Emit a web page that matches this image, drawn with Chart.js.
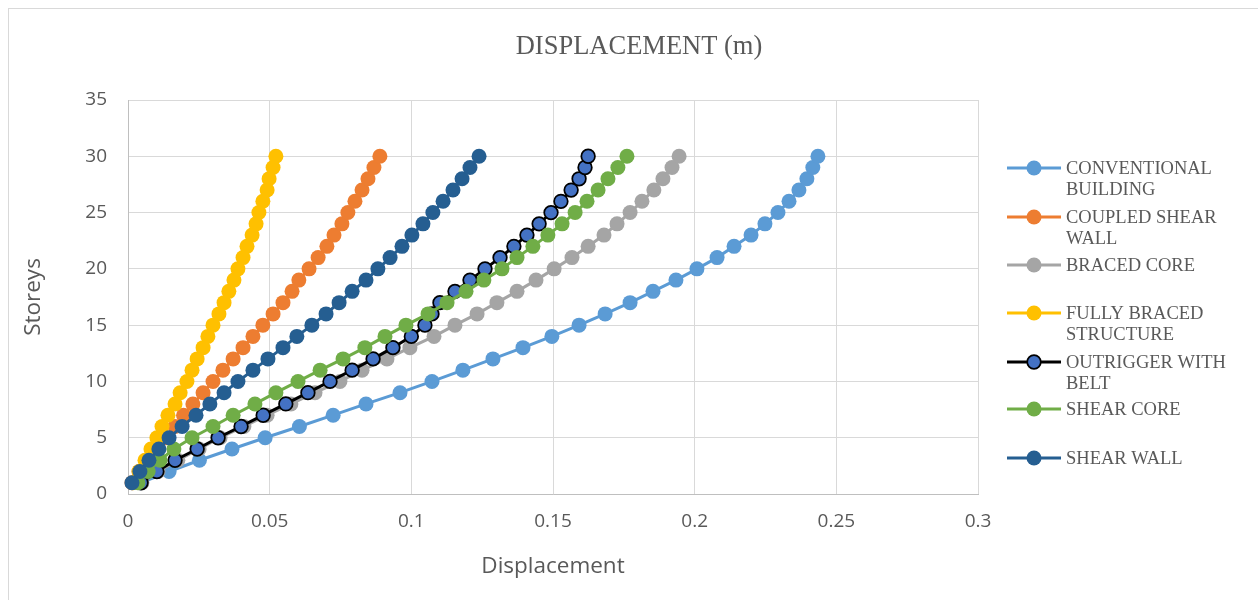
<!DOCTYPE html>
<html>
<head>
<meta charset="utf-8">
<script src="https://cdn.jsdelivr.net/npm/chart.js@4.4.1/dist/chart.umd.min.js"></script>
<style>
html,body{margin:0;padding:0;background:#fff;overflow:hidden;width:1258px;height:600px;}
#frame{position:absolute;left:8px;top:8px;width:1300px;height:700px;border:1px solid #d9d9d9;box-sizing:border-box;}
#wrap{position:absolute;left:0;top:0;width:1258px;height:600px;}
</style>
</head>
<body>
<div id="frame"></div>
<div id="wrap"><canvas id="c" width="1258" height="600"></canvas></div>
<script>
// ---- data ----
const storeys = [1,2,3,4,5,6,7,8,9,10,11,12,13,14,15,16,17,18,19,20,21,22,23,24,25,26,27,28,29,30];

const conventionalBuilding = [0.0045,0.0145,0.0252,0.0367,0.0484,0.0605,0.0724,0.0840,0.0960,0.1073,0.1182,0.1288,0.1394,0.1496,0.1592,0.1684,0.1772,0.1853,0.1934,0.2008,0.2079,0.2139,0.2199,0.2248,0.2294,0.2333,0.2368,0.2396,0.2417,0.2435];
const coupledShearWall = [0.0014,0.0039,0.0067,0.0102,0.0134,0.0166,0.0196,0.0229,0.0265,0.0300,0.0335,0.0371,0.0406,0.0441,0.0476,0.0512,0.0547,0.0579,0.0603,0.0639,0.0671,0.0702,0.0727,0.0755,0.0776,0.0801,0.0826,0.0847,0.0868,0.0889];
const bracedCore = [0.0049,0.0106,0.0176,0.0251,0.0325,0.0409,0.0491,0.0575,0.0660,0.0748,0.0826,0.0914,0.0995,0.1080,0.1154,0.1232,0.1302,0.1373,0.1440,0.1504,0.1567,0.1624,0.1680,0.1726,0.1772,0.1814,0.1856,0.1888,0.1920,0.1945];
const fullyBracedStructure = [0.0018,0.0039,0.0060,0.0081,0.0102,0.0120,0.0141,0.0166,0.0184,0.0208,0.0226,0.0244,0.0265,0.0282,0.0300,0.0321,0.0339,0.0356,0.0374,0.0388,0.0406,0.0420,0.0438,0.0452,0.0462,0.0476,0.0491,0.0498,0.0512,0.0522];
const outriggerWithBelt = [0.0046,0.0102,0.0166,0.0244,0.0318,0.0399,0.0477,0.0557,0.0635,0.0713,0.0791,0.0865,0.0935,0.1000,0.1048,0.1073,0.1101,0.1154,0.1207,0.1260,0.1313,0.1362,0.1408,0.1451,0.1493,0.1528,0.1564,0.1592,0.1613,0.1624];
const shearCore = [0.0035,0.0071,0.0113,0.0162,0.0226,0.0300,0.0371,0.0448,0.0522,0.0600,0.0678,0.0759,0.0836,0.0907,0.0981,0.1059,0.1126,0.1193,0.1256,0.1320,0.1373,0.1429,0.1482,0.1532,0.1578,0.1620,0.1659,0.1694,0.1729,0.1761];
const shearWall = [0.0014,0.0042,0.0074,0.0109,0.0145,0.0191,0.0240,0.0289,0.0339,0.0388,0.0441,0.0494,0.0547,0.0596,0.0649,0.0699,0.0745,0.0791,0.0840,0.0882,0.0925,0.0967,0.1002,0.1041,0.1076,0.1112,0.1147,0.1179,0.1207,0.1239];

const seriesNames = ['CONVENTIONAL BUILDING','COUPLED SHEAR WALL','BRACED CORE','FULLY BRACED STRUCTURE','OUTRIGGER WITH BELT','SHEAR CORE','SHEAR WALL'];
const seriesValues = [conventionalBuilding, coupledShearWall, bracedCore, fullyBracedStructure, outriggerWithBelt, shearCore, shearWall];

const xTickLabels = ['0','0.05','0.1','0.15','0.2','0.25','0.3'];
const yTickLabels = ['0','5','10','15','20','25','30','35'];

const chartTitle = 'DISPLACEMENT (m)';
const xAxisTitle = 'Displacement';
const yAxisTitle = 'Storeys';

// ---- styles ----
const lineColors   = ['#5B9BD5','#ED7D31','#A5A5A5','#FFC000','#000000','#70AD47','#255E91'];
const markerFills  = ['#5B9BD5','#ED7D31','#A5A5A5','#FFC000','#4472C4','#70AD47','#255E91'];
const markerBorders= ['#5B9BD5','#ED7D31','#A5A5A5','#FFC000','#000000','#70AD47','#255E91'];
const markerBorderW= [0,0,0,0,1.75,0,0];
const legendRowY = [168,217,265,313,362,409,458];

const textColor = '#595959';
const serif = '"Liberation Serif","Times New Roman",serif';
const sans = '"Open Sans","Liberation Sans",sans-serif';

const datasets = seriesValues.map((vals, i) => ({
  label: seriesNames[i],
  data: storeys.map((s, k) => ({x: vals[k], y: s})),
  showLine: true,
  borderColor: lineColors[i],
  backgroundColor: markerFills[i],
  pointBackgroundColor: markerFills[i],
  pointBorderColor: markerBorders[i],
  pointBorderWidth: markerBorderW[i],
  pointRadius: markerBorderW[i] ? 6.8 : 7.5,
  pointHoverRadius: 7.5,
  borderWidth: 3,
  tension: 0,
  clip: false,
  order: seriesValues.length - 1 - i
}));

const titleLegendPlugin = {
  id: 'titleLegend',
  afterDraw(chart) {
    const ctx = chart.ctx;
    ctx.save();
    // title
    ctx.fillStyle = textColor;
    ctx.font = '26.5px ' + serif;
    ctx.textAlign = 'center';
    ctx.textBaseline = 'middle';
    ctx.fillText(chartTitle, 639, 47);
    // legend
    ctx.font = '18.5px ' + serif;
    ctx.textAlign = 'left';
    const maxW = 185;
    seriesNames.forEach((name, i) => {
      const y = legendRowY[i];
      ctx.strokeStyle = lineColors[i];
      ctx.lineWidth = 3;
      ctx.beginPath();
      ctx.moveTo(1007, y);
      ctx.lineTo(1061, y);
      ctx.stroke();
      ctx.beginPath();
      ctx.arc(1034, y, markerBorderW[i] ? 6.8 : 7.5, 0, Math.PI * 2);
      ctx.fillStyle = markerFills[i];
      ctx.fill();
      if (markerBorderW[i]) {
        ctx.lineWidth = markerBorderW[i];
        ctx.strokeStyle = markerBorders[i];
        ctx.stroke();
      }
      // wrap text
      const words = name.split(' ');
      const lines = [];
      let cur = '';
      words.forEach(w => {
        const t = cur ? cur + ' ' + w : w;
        if (cur && ctx.measureText(t).width > maxW) { lines.push(cur); cur = w; }
        else cur = t;
      });
      if (cur) lines.push(cur);
      ctx.fillStyle = textColor;
      lines.forEach((ln, k) => ctx.fillText(ln, 1066, y + 1 + k * 21.5));
    });
    ctx.restore();
  }
};

new Chart(document.getElementById('c'), {
  type: 'scatter',
  data: { datasets },
  plugins: [titleLegendPlugin],
  options: {
    responsive: false,
    maintainAspectRatio: false,
    animation: false,
    layout: { padding: { left: 16, top: 100, right: 280, bottom: 18 } },
    plugins: { legend: { display: false }, title: { display: false }, tooltip: { enabled: false } },
    scales: {
      x: {
        type: 'linear',
        min: 0, max: 0.3,
        afterFit(scale) { scale.height = 88; },
        afterBuildTicks(scale) { scale.ticks = xTickLabels.map(t => ({value: parseFloat(t)})); },
        ticks: {
          color: textColor,
          font: { family: sans, size: 19 },
          padding: 16,
          maxRotation: 0,
          callback: (v, i) => xTickLabels[i]
        },
        grid: { color: '#d9d9d9', lineWidth: 1, drawTicks: false },
        border: { color: '#bfbfbf', width: 1 },
        title: { display: true, text: xAxisTitle, color: textColor, font: { family: sans, size: 22.5 }, padding: { top: 2, bottom: 2 } }
      },
      y: {
        type: 'linear',
        min: 0, max: 35,
        afterFit(scale) { scale.width = 112; },
        afterBuildTicks(scale) { scale.ticks = yTickLabels.map(t => ({value: parseFloat(t)})); },
        ticks: {
          color: textColor,
          font: { family: sans, size: 19 },
          padding: 21,
          callback: (v, i) => yTickLabels[i]
        },
        grid: { color: '#d9d9d9', lineWidth: 1, drawTicks: false },
        border: { color: '#bfbfbf', width: 1 },
        title: { display: true, text: yAxisTitle, color: textColor, font: { family: sans, size: 22.5 }, padding: { top: 4, bottom: 4 } }
      }
    }
  }
});
</script>
</body>
</html>
